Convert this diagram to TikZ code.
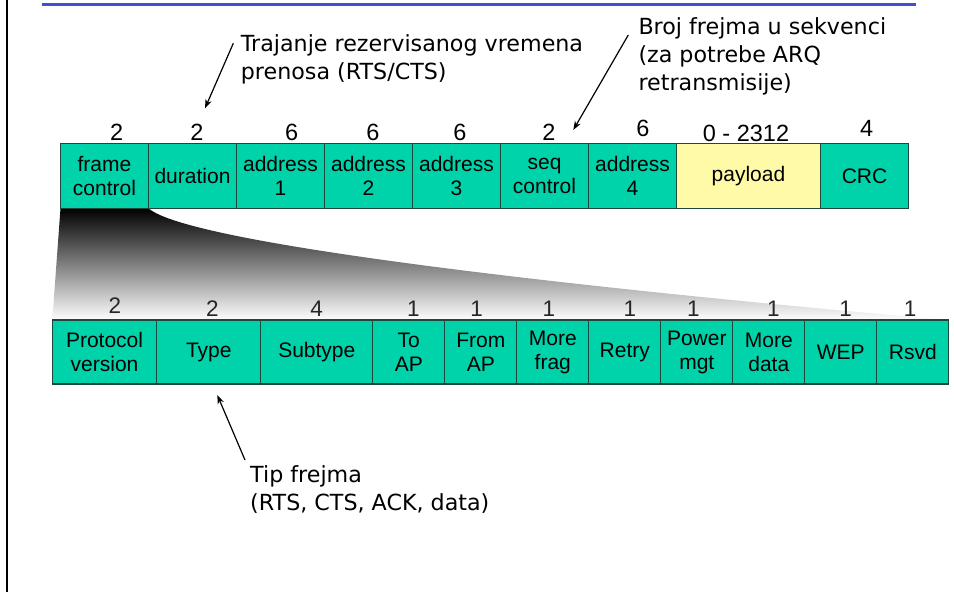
\documentclass[tikz,border=0pt]{standalone}
\usepackage{fontspec}
\setmainfont{Liberation Sans}
\newfontfamily\notefont{DejaVu Sans}
\usetikzlibrary{arrows.meta,backgrounds}
\definecolor{fieldfill}{RGB}{0,210,170}
\definecolor{fieldline}{RGB}{28,72,62}
\definecolor{payloadfill}{RGB}{255,250,168}
\definecolor{rulecolor}{RGB}{64,80,208}
\begin{document}
\begin{tikzpicture}[x=1pt,y=-1pt,
  field/.style={draw=fieldline, fill=fieldfill, line width=1.2pt, inner sep=0pt,
    outer sep=0pt, anchor=north west, align=center,
    font=\fontsize{21}{24}\selectfont},
  toprow/.style={field, minimum height=65pt},
  subrow/.style={field, minimum height=64pt},
  bits/.style={anchor=base, inner sep=0pt, font=\fontsize{23.5}{26}\selectfont},
  subbits/.style={anchor=base, inner sep=0pt, text=black!85, font=\fontsize{22.5}{26}\selectfont},
  note/.style={anchor=north west, inner sep=0pt, align=left,
    font=\notefont\fontsize{22.2}{28}\selectfont},
  pointer/.style={line width=1.2pt, -{Stealth[length=9pt,width=6.5pt]}}]

\useasboundingbox (0,0) rectangle (954,592);

% page frame: left edge and title rule
\draw[line width=2.5pt] (7,0) -- (7,592);
\draw[rulecolor, line width=3pt] (41.7,4.3) -- (916,4.3);

% 802.11 frame fields
\node[toprow, minimum width=88pt] (fc) at (60.5,143.3) {frame\\control};
\node[toprow, minimum width=88pt] (dur) at (148.5,143.3) {duration};
\node[toprow, minimum width=88pt] (a1) at (236.5,143.3) {address\\1};
\node[toprow, minimum width=88pt] (a2) at (324.5,143.3) {address\\2};
\node[toprow, minimum width=88pt] (a3) at (412.5,143.3) {address\\3};
\node[toprow, minimum width=88pt] (seq) at (500.5,143.3) {seq\\control};
\node[toprow, minimum width=88pt] (a4) at (588.5,143.3) {address\\4};
\node[toprow, minimum width=144pt, fill=payloadfill] (pay) at (676.5,143.3) {payload};
\node[toprow, minimum width=88pt] (crc) at (820.5,143.3) {CRC};

% field sizes in bytes
\node[bits] (n1) at (116.7,140.7) {2};
\node[bits] (n2) at (197,140.7) {2};
\node[bits] (n3) at (291.7,140.7) {6};
\node[bits] (n4) at (373,140.7) {6};
\node[bits] (n5) at (460,140.7) {6};
\node[bits] (n6) at (549,140.7) {2};
\node[bits] (n7) at (643,136.7) {6};
\node[bits] (n8) at (746,141.7) {0 - 2312};
\node[bits] (n9) at (866.7,136.7) {4};

% frame control sub-fields
\node[subrow, minimum width=104.5pt] (pv) at (52.3,320) {Protocol\\version};
\node[subrow, minimum width=104pt] (typ) at (156.8,320) {Type};
\node[subrow, minimum width=112pt] (sub) at (260.8,320) {Subtype};
\node[subrow, minimum width=72pt] (toap) at (372.8,320) {To\\AP};
\node[subrow, minimum width=72pt] (fromap) at (444.8,320) {From\\AP};
\node[subrow, minimum width=72pt] (mfrag) at (516.8,320) {More\\frag};
\node[subrow, minimum width=72pt] (retry) at (588.8,320) {Retry};
\node[subrow, minimum width=72pt] (pwr) at (660.8,320) {Power\\mgt};
\node[subrow, minimum width=72pt] (mdata) at (732.8,320) {More\\data};
\node[subrow, minimum width=72pt] (wep) at (804.8,320) {WEP};
\node[subrow, minimum width=72pt] (rsvd) at (876.8,320) {Rsvd};

% sub-field sizes in bits
\node[subbits] (b1) at (115,313.3) {2};
\node[subbits] (b2) at (212.3,316.7) {2};
\node[subbits] (b3) at (316.7,316.7) {4};
\node[subbits] (b4) at (413.3,316.7) {1};
\node[subbits] (b5) at (476.7,316.7) {1};
\node[subbits] (b6) at (549,316.7) {1};
\node[subbits] (b7) at (630,316.7) {1};
\node[subbits] (b8) at (693.3,316.7) {1};
\node[subbits] (b9) at (773.3,316.7) {1};
\node[subbits] (b10) at (845.7,316.7) {1};
\node[subbits] (b11) at (910,316.7) {1};

% expansion wedge from frame control to its sub-fields
\begin{pgfonlayer}{background}
\shade[top color=black, bottom color=white]
  (fc.south west) -- (fc.south east)
  .. controls (190,245) and (600,290) .. (rsvd.north east)
  -- (pv.north west) -- cycle;
\end{pgfonlayer}

% annotations
\node[note] (durnote) at (240.7,34) {Trajanje rezervisanog vremena\\prenosa (RTS/CTS)};
\node[note] (seqnote) at (638.3,17) {Broj frejma u sekvenci\\(za potrebe ARQ\\retransmisije)};
\node[note] (typnote) at (250,465.5) {Tip frejma\\(RTS, CTS, ACK, data)};

\coordinate (durfrom) at (233.3,43.3);
\coordinate (durto) at (205,108.3);
\coordinate (seqfrom) at (628.3,35);
\coordinate (seqto) at (573.3,130);
\coordinate (typfrom) at (245,460);
\coordinate (typto) at (217.3,395);

\draw[pointer] (durfrom) -- (durto);
\draw[pointer] (seqfrom) -- (seqto);
\draw[pointer] (typfrom) -- (typto);
\end{tikzpicture}
\end{document}
